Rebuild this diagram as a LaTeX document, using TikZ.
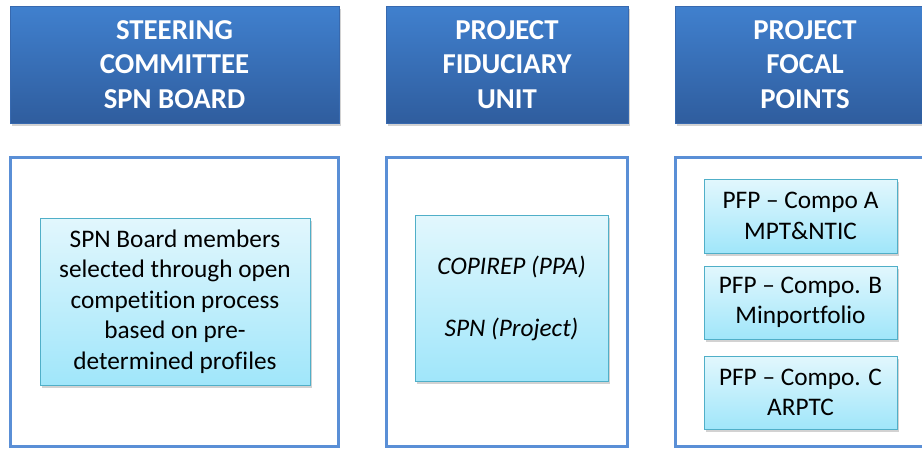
\documentclass[tikz,border=0pt]{standalone}
\usepackage{fontspec}
\setmainfont{Carlito}[Ligatures=NoCommon]
\usetikzlibrary{shadows}
\definecolor{hdrtop}{RGB}{64,128,206}
\definecolor{hdrbot}{RGB}{47,93,158}
\definecolor{hdredge}{RGB}{55,105,175}
\definecolor{frameblue}{RGB}{90,143,214}
\definecolor{intop}{RGB}{226,247,253}
\definecolor{inbot}{RGB}{160,230,250}
\definecolor{inedge}{RGB}{80,175,200}
\tikzset{
  hdr/.style={draw=hdredge, line width=0.6pt, top color=hdrtop, bottom color=hdrbot,
    text=white, font=\fontsize{28.8}{34.5}\selectfont\bfseries, align=center,
    inner sep=0pt, drop shadow={shadow xshift=1.5pt, shadow yshift=-2.5pt, opacity=0.35}},
  frame/.style={draw=frameblue, line width=3pt, fill=white},
  inbox/.style={draw=inedge, line width=0.8pt, top color=intop, bottom color=inbot,
    text=black, font=\fontsize{25.3}{30.5}\selectfont, align=center, inner sep=0pt,
    drop shadow={shadow xshift=1.5pt, shadow yshift=-2.5pt, opacity=0.35}}
}
\begin{document}
\begin{tikzpicture}[x=1pt,y=-1pt]
\useasboundingbox (0,0) rectangle (922,448);
\clip (0,0) rectangle (922,448);
\fill[white] (0,0) rectangle (922,448);
% headers
\node[hdr, minimum width=329pt, minimum height=117pt] (h1) at (174.5,64.5) {STEERING\\COMMITTEE\\SPN BOARD};
\node[hdr, minimum width=242pt, minimum height=117pt] (h2) at (507,64.5) {PROJECT\\FIDUCIARY\\UNIT};
\node[hdr, minimum width=260pt, minimum height=117pt] (h3) at (805,64.5) {PROJECT\\FOCAL\\POINTS};
% frames
\draw[frame] (10,157) rectangle (338,446) coordinate (f1);
\draw[frame] (386,157) rectangle (627,446) coordinate (f2);
\draw[frame] (675,157) rectangle (935,446) coordinate (f3);
% inner boxes
\node[inbox, minimum width=270pt, minimum height=167pt] (b1) at (175,301.5)
  {SPN Board members\\selected through open\\competition process\\based on pre-\\determined profiles};
\node[inbox, minimum width=193pt, minimum height=166pt, font=\fontsize{25.3}{31}\selectfont\itshape] (b2) at (511.5,298)
  {COPIREP (PPA)\\[31pt]SPN (Project)};
\node[inbox, minimum width=193pt, minimum height=74pt] (c1) at (800.5,216) {PFP – Compo A\\MPT\&NTIC};
\node[inbox, minimum width=193pt, minimum height=73pt] (c2) at (800.5,302.5) {PFP – Compo. B\\Minportfolio};
\node[inbox, minimum width=193pt, minimum height=73pt] (c3) at (800.5,392.5) {PFP – Compo. C\\ARPTC};
\end{tikzpicture}
\end{document}
